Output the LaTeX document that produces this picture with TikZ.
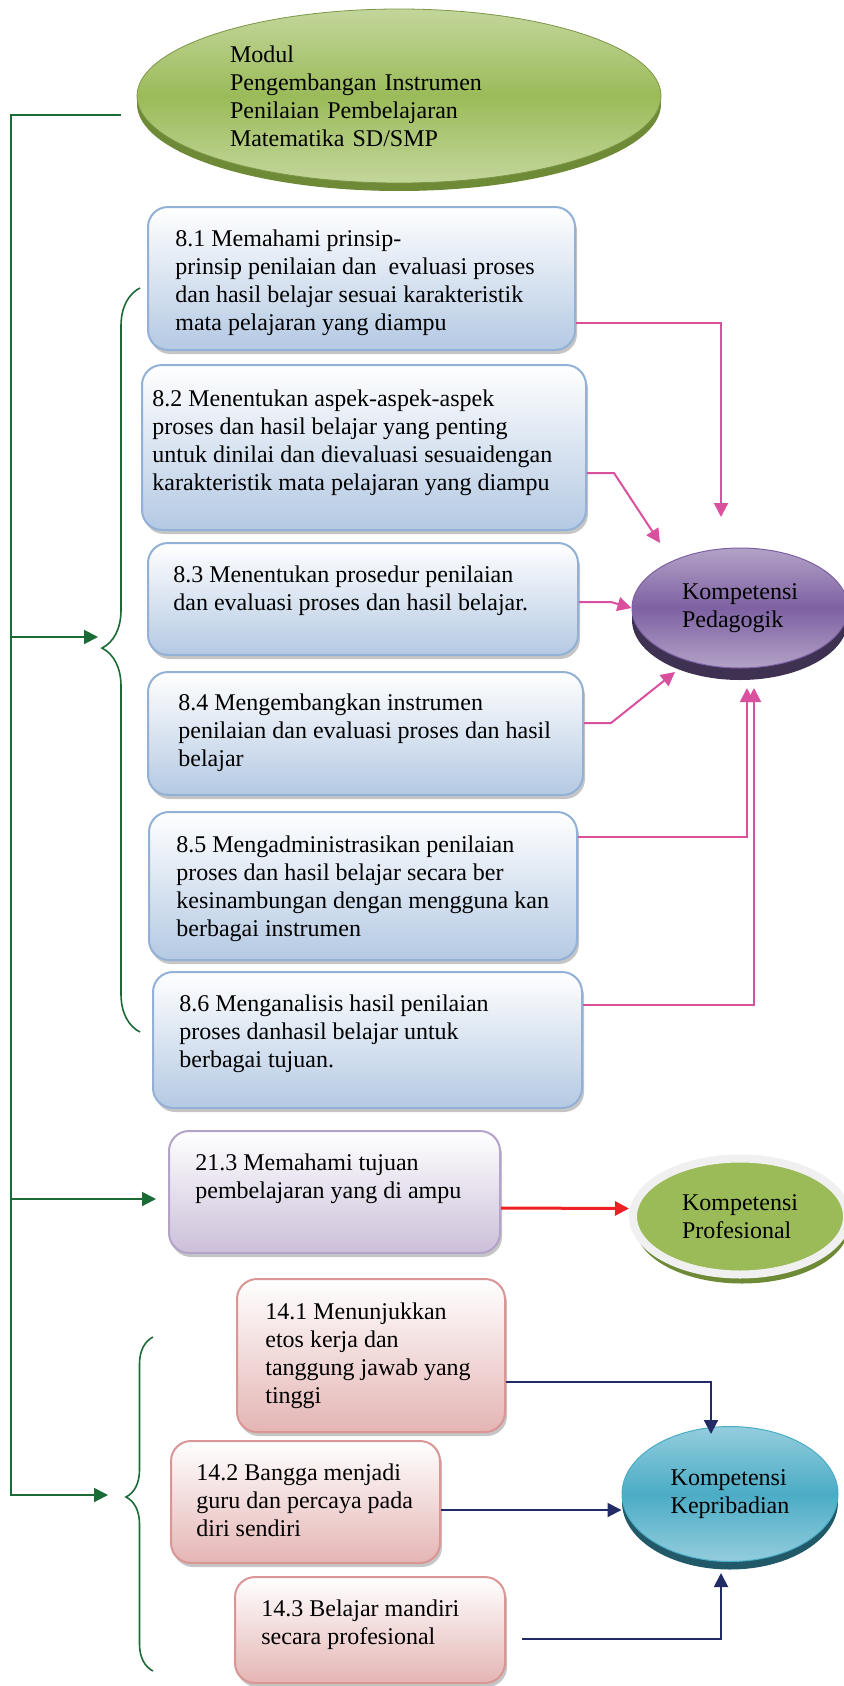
\documentclass[tikz,border=0pt]{standalone}
\usepackage{fontspec}
\setmainfont{Liberation Serif}
\usepackage{xcolor}
\usepackage{tikz}
\usetikzlibrary{shapes.geometric, arrows.meta, calc, shadows, decorations.pathreplacing}
\definecolor{hijautua}{HTML}{1B6B37}
\definecolor{pinkpanah}{HTML}{D9519E}
\definecolor{merahpanah}{HTML}{ED2024}
\definecolor{birutua}{HTML}{232B66}
\definecolor{birumuda}{HTML}{B4C9E3}
\definecolor{garisbiru}{HTML}{93B1D6}
\definecolor{ungumuda}{HTML}{CBBFD9}
\definecolor{garisungu}{HTML}{B3A3C8}
\definecolor{merahmuda}{HTML}{E4B5B4}
\definecolor{garismerah}{HTML}{D99694}
\definecolor{zaitun}{HTML}{9BBB59}
\definecolor{zaitunmuda}{HTML}{C3D69B}
\definecolor{zaituntua}{HTML}{6E8A36}
\definecolor{ungu}{HTML}{7D61A2}
\definecolor{ungumudab}{HTML}{B3A2C7}
\definecolor{ungutua}{HTML}{3F3151}
\definecolor{toska}{HTML}{4BACC6}
\definecolor{toskamuda}{HTML}{93CDDD}
\definecolor{toskatua}{HTML}{215968}

\begin{document}
\begin{tikzpicture}[x=0.5pt, y=-0.5pt,
    font=\fontsize{12}{14}\selectfont,
    kotak/.style={draw, rounded corners=10pt, line width=1pt,
                  drop shadow={shadow xshift=1pt, shadow yshift=-2pt, fill=black!45, opacity=.5}},
    kotakbiru/.style={kotak, draw=garisbiru, top color=white, bottom color=birumuda},
    kotakungu/.style={kotak, draw=garisungu, top color=white, bottom color=ungumuda},
    kotakmerah/.style={kotak, draw=garismerah, top color=white, bottom color=merahmuda},
    lonjong/.style={ellipse, inner sep=0pt, align=left},
    teks/.style={anchor=north west, inner sep=0pt, align=left},
    panah/.style={-{Triangle[length=7pt, width=7pt]}, line width=1pt},
    panahhijau/.style={panah, hijautua},
    panahpink/.style={panah, pinkpanah},
    panahmerah/.style={panah, merahpanah, line width=1.5pt},
    panahbiru/.style={panah, birutua},
    kurawal/.style={decorate, hijautua, line width=0.8pt}
]
    \useasboundingbox (0,0) rectangle (843,1686);

    % modul dan kompetensi
    \node[lonjong, minimum width=262pt, minimum height=87pt, text width=169pt,
          draw=zaitun!80!black, line width=0.4pt, top color=zaitunmuda, bottom color=zaitunmuda, middle color=zaitun,
          drop shadow={shadow xshift=0pt, shadow yshift=-4pt, fill=zaituntua, opacity=1}] (modul) at (399,96)
          {Modul\\Pengembangan Instrumen\\Penilaian Pembelajaran\\Matematika SD/SMP};
    \node[lonjong, minimum width=108pt, minimum height=60pt, draw=ungu, line width=0.5pt,
          top color=ungumudab, bottom color=ungumudab, middle color=ungu,
          drop shadow={shadow xshift=0pt, shadow yshift=-6pt, fill=ungutua, opacity=1}] (ped) at (740,608)
          {Kompetensi\\Pedagogik};
    \node[lonjong, minimum width=107pt, minimum height=58pt, draw=black!6, line width=4pt, fill=zaitun,
          drop shadow={shadow xshift=1pt, shadow yshift=-4.5pt, fill=zaituntua, opacity=1}] (prof) at (740,1216.5)
          {Kompetensi\\Profesional};
    \node[lonjong, minimum width=108pt, minimum height=67.5pt, draw=toska, line width=0.5pt,
          top color=toskamuda, bottom color=toskamuda, middle color=toska,
          drop shadow={shadow xshift=0pt, shadow yshift=-4pt, fill=toskatua, opacity=1}] (kepr) at (730,1494)
          {Kompetensi\\Kepribadian};

    % kotak indikator
    \node[kotakbiru, minimum width=213.5pt, minimum height=71.5pt] (k81) at (361.5,278.5) {};
    \node[kotakbiru, minimum width=222pt, minimum height=82.5pt] (k82) at (364,447.5) {};
    \node[kotakbiru, minimum width=215pt, minimum height=56pt] (k83) at (363,599) {};
    \node[kotakbiru, minimum width=217.5pt, minimum height=61.5pt] (k84) at (365.5,733.5) {};
    \node[kotakbiru, minimum width=214pt, minimum height=74pt] (k85) at (363,886) {};
    \node[kotakbiru, minimum width=214.5pt, minimum height=68pt] (k86) at (367.5,1040) {};
    \node[kotakungu, minimum width=165.5pt, minimum height=61pt] (k213) at (334.5,1192) {};
    \node[kotakmerah, minimum width=134pt, minimum height=76.5pt] (k141) at (371,1355.5) {};
    \node[kotakmerah, minimum width=134.5pt, minimum height=61pt] (k142) at (305.5,1502) {};
    \node[kotakmerah, minimum width=135pt, minimum height=53pt] (k143) at (370,1630) {};

    \node[teks] (t81) at (175,229) {8.1 Memahami prinsip-\\prinsip penilaian dan\ \ evaluasi proses\\dan hasil belajar sesuai karakteristik\\mata pelajaran yang diampu};
    \node[teks] (t82) at (152,389) {8.2 Menentukan aspek-aspek-aspek\\proses dan hasil belajar yang penting\\untuk dinilai dan dievaluasi sesuaidengan\\karakteristik mata pelajaran yang diampu};
    \node[teks] (t83) at (173,565) {8.3 Menentukan prosedur penilaian\\dan evaluasi proses dan hasil belajar.};
    \node[teks] (t84) at (178,693) {8.4 Mengembangkan instrumen\\penilaian dan evaluasi proses dan hasil\\belajar};
    \node[teks] (t85) at (176,835) {8.5 Mengadministrasikan penilaian\\proses dan hasil belajar secara ber\\kesinambungan dengan mengguna kan\\berbagai instrumen};
    \node[teks] (t86) at (179,994) {8.6 Menganalisis hasil penilaian\\proses danhasil belajar untuk\\berbagai tujuan.};
    \node[teks] (t213) at (195,1153) {21.3 Memahami tujuan\\pembelajaran yang di ampu};
    \node[teks] (t141) at (265,1302) {14.1 Menunjukkan\\etos kerja dan\\tanggung jawab yang\\tinggi};
    \node[teks] (t142) at (196,1463) {14.2 Bangga menjadi\\guru dan percaya pada\\diri sendiri};
    \node[teks] (t143) at (261,1599) {14.3 Belajar mandiri\\secara profesional};

    % garis hijau dan kurung kurawal
    \coordinate (sudut) at (11,115);
    \coordinate (kurung1) at (98,637);
    \coordinate (ujung213) at (156,1199);
    \coordinate (kurung2) at (108,1495);
    \draw[panahhijau] ([xshift=-8pt,yshift=-9.5pt]modul.west) -- (sudut) |- (kurung2);
    \draw[panahhijau] (sudut |- kurung1) -- (kurung1);
    \draw[panahhijau] (sudut |- ujung213) -- (ujung213);
    \draw[kurawal, decoration={brace, amplitude=19pt, aspect=0.516}] (140,1032) -- (140,288);
    \draw[kurawal, decoration={brace, amplitude=13.5pt, aspect=0.521}] (153,1671) -- (153,1337);

    % panah ke kompetensi
    \coordinate (ujung81) at (721,517);
    \coordinate (ujung82) at (660,543);
    \coordinate (ujung84) at (675,672);
    \coordinate (ujung85) at (747,688);
    \coordinate (ujung86) at (754,688);
    \draw[panahpink] ([yshift=-22pt]k81.east) -| (ujung81);
    \draw[panahpink] ([yshift=-12.75pt]k82.east) -- ++(27,0) -- (ujung82);
    \draw[panahpink] ([yshift=-1.5pt]k83.east) -- ++(32,0) -- (ped.west);
    \draw[panahpink] ([yshift=5.25pt]k84.east) -- ++(27,0) -- (ujung84);
    \draw[panahpink] ([yshift=24.5pt]k85.east) -| (ujung85);
    \draw[panahpink] ([yshift=17.5pt]k86.east) -| (ujung86);

    \draw[panahmerah] ([yshift=-8pt]k213.east) -- ([yshift=4pt]prof.west);

    \coordinate (ujung141) at (711,1434);
    \coordinate (ujung143) at (721,1573);
    \draw[panahbiru] ([yshift=-13.25pt]k141.east) -| (ujung141);
    \draw[panahbiru] ([yshift=-4pt]k142.east) -- ([yshift=-8pt]kepr.west);
    \draw[panahbiru] ([xshift=8pt,yshift=-4.5pt]k143.east) -| (ujung143);
\end{tikzpicture}
\end{document}
